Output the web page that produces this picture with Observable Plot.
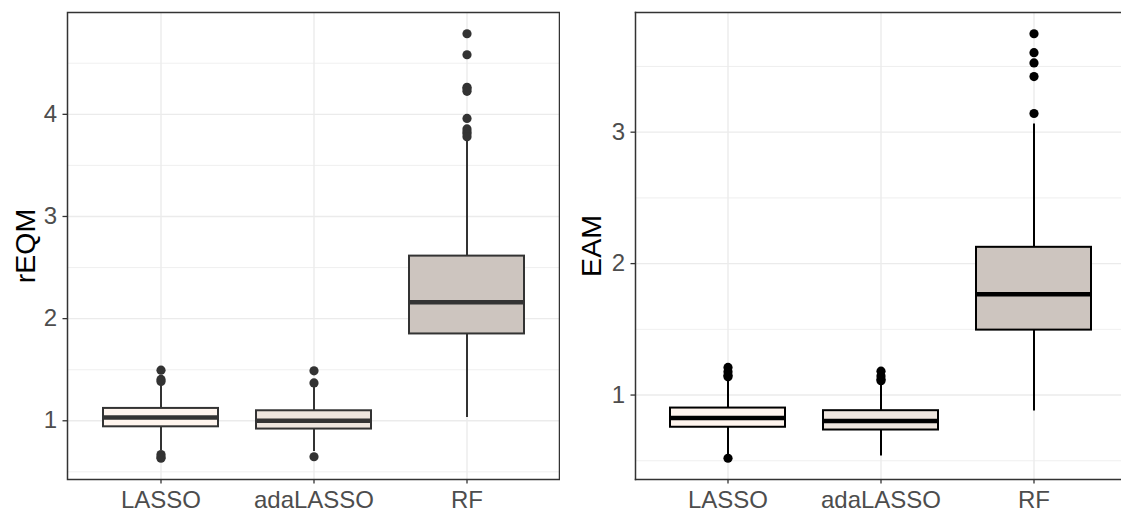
<!DOCTYPE html>
<html>
<head>
<meta charset="utf-8">
<script src="https://cdn.jsdelivr.net/npm/d3@7"></script>
<script src="https://cdn.jsdelivr.net/npm/@observablehq/plot@0.6"></script>
<style>
  html, body { margin: 0; padding: 0; background: #ffffff; overflow: hidden; }
  #wrap { position: relative; width: 1121px; height: 513px; overflow: hidden; }
  .cell { position: absolute; top: 0; height: 513px; overflow: hidden; }
  .cell svg { max-width: none !important; display: block; }
</style>
</head>
<body>
<div id="wrap">
  <div class="cell" id="left" style="left:0px;width:560px"></div>
  <div class="cell" id="right" style="left:560px;width:561px"></div>
</div>
<script>
// ---- data ----
const categories = ["LASSO", "adaLASSO", "RF"];
const boxFills = ["#FFF5EE", "#EEE5DE", "#CDC5BF"];

// rEQM panel
const rEQM_q1 = [0.941, 0.919, 1.850];
const rEQM_median = [1.033, 1.000, 2.160];
const rEQM_q3 = [1.121, 1.098, 2.612];
const rEQM_whiskerLow = [0.71, 0.70, 1.033];
const rEQM_whiskerHigh = [1.37, 1.33, 3.75];
const rEQM_outliers_LASSO = [1.495, 1.405, 1.385, 0.67, 0.645, 0.633];
const rEQM_outliers_adaLASSO = [1.489, 1.371, 0.648];
const rEQM_outliers_RF = [4.789, 4.583, 4.264, 4.25, 4.225, 3.96, 3.857, 3.83, 3.81, 3.78];
const rEQM_ticks = [1, 2, 3, 4];
const rEQM_minor = [0.5, 1.5, 2.5, 3.5, 4.5];

// EAM panel
const EAM_q1 = [0.755, 0.734, 1.494];
const EAM_median = [0.826, 0.803, 1.767];
const EAM_q3 = [0.901, 0.881, 2.124];
const EAM_whiskerLow = [0.545, 0.537, 0.878];
const EAM_whiskerHigh = [1.105, 1.08, 3.063];
const EAM_outliers_LASSO = [1.21, 1.177, 1.15, 1.139, 0.519];
const EAM_outliers_adaLASSO = [1.182, 1.144, 1.12, 1.109];
const EAM_outliers_RF = [3.749, 3.605, 3.527, 3.423, 3.142];
const EAM_ticks = [1, 2, 3];
const EAM_minor = [0.5, 1.5, 2.5, 3.5];

function buildStats(q1, med, q3, lo, hi) {
  return categories.map((c, i) => ({
    cat: c, q1: q1[i], median: med[i], q3: q3[i], lo: lo[i], hi: hi[i], fill: boxFills[i]
  }));
}
function buildOutliers(lists) {
  const out = [];
  categories.forEach((c, i) => lists[i].forEach(v => out.push({cat: c, value: v})));
  return out;
}

function panel({stats, outliers, ticks, minor, title, ink, width, marginLeft, marginRight, titleDx, openRight}) {
  const all = stats.flatMap(d => [d.lo, d.hi]).concat(outliers.map(d => d.value));
  const mn = d3.min(all), mx = d3.max(all), pad = (mx - mn) * 0.05;
  const font = "Liberation Sans, Arial, Helvetica, sans-serif";
  const border = {stroke: "#333333", strokeWidth: 1.5};
  const frameMarks = openRight
    ? [Plot.frame({...border, anchor: "top"}), Plot.frame({...border, anchor: "left"}), Plot.frame({...border, anchor: "bottom"})]
    : [Plot.frame(border)];
  const svg = Plot.plot({
    width, height: 513,
    marginTop: 12, marginBottom: 34, marginLeft, marginRight,
    style: {fontFamily: font, background: "#ffffff", overflow: "visible"},
    x: {type: "band", domain: categories, paddingInner: 0.25, paddingOuter: 0.225, label: null},
    y: {domain: [mn - pad, mx + pad], label: null},
    color: {type: "identity"},
    marks: [
      Plot.ruleY(minor, {stroke: "#EBEBEB", strokeWidth: 0.8}),
      Plot.ruleY(ticks, {stroke: "#EBEBEB", strokeWidth: 1.4}),
      Plot.ruleX(categories, {stroke: "#EBEBEB", strokeWidth: 1.4}),
      Plot.ruleX(stats, {x: "cat", y1: "q3", y2: "hi", stroke: ink, strokeWidth: 2}),
      Plot.ruleX(stats, {x: "cat", y1: "lo", y2: "q1", stroke: ink, strokeWidth: 2}),
      Plot.barY(stats, {x: "cat", y1: "q1", y2: "q3", fill: "fill", stroke: ink, strokeWidth: 2}),
      Plot.tickY(stats, {x: "cat", y: "median", stroke: ink, strokeWidth: 4.5}),
      Plot.dot(outliers, {x: "cat", y: "value", r: 4.6, fill: ink, stroke: "none"}),
      ...frameMarks,
      Plot.axisY({ticks, tickSize: 4.5, tickPadding: 6, fontSize: 24, fill: "#4D4D4D", stroke: "#333333", strokeWidth: 1.3, label: null, tickFormat: d => String(d)}),
      Plot.axisX({tickSize: 4.5, tickPadding: 6.5, fontSize: 24, fill: "#4D4D4D", stroke: "#333333", strokeWidth: 1.3, label: null}),
      Plot.text([title], {frameAnchor: "left", dx: titleDx, rotate: -90, fontSize: 28.5, fill: "#000000", lineAnchor: "middle", textAnchor: "middle"})
    ]
  });
  svg.style.maxWidth = "none";
  svg.style.width = width + "px";
  svg.style.height = "513px";
  return svg;
}

document.getElementById("left").appendChild(panel({
  stats: buildStats(rEQM_q1, rEQM_median, rEQM_q3, rEQM_whiskerLow, rEQM_whiskerHigh),
  outliers: buildOutliers([rEQM_outliers_LASSO, rEQM_outliers_adaLASSO, rEQM_outliers_RF]),
  ticks: rEQM_ticks, minor: rEQM_minor, title: "rEQM", ink: "#333333",
  width: 560, marginLeft: 67, marginRight: 1, titleDx: -42, openRight: false
}));
document.getElementById("right").appendChild(panel({
  stats: buildStats(EAM_q1, EAM_median, EAM_q3, EAM_whiskerLow, EAM_whiskerHigh),
  outliers: buildOutliers([EAM_outliers_LASSO, EAM_outliers_adaLASSO, EAM_outliers_RF]),
  ticks: EAM_ticks, minor: EAM_minor, title: "EAM", ink: "#000000",
  width: 566, marginLeft: 75, marginRight: 0, titleDx: -44, openRight: true
}));
</script>
</body>
</html>
